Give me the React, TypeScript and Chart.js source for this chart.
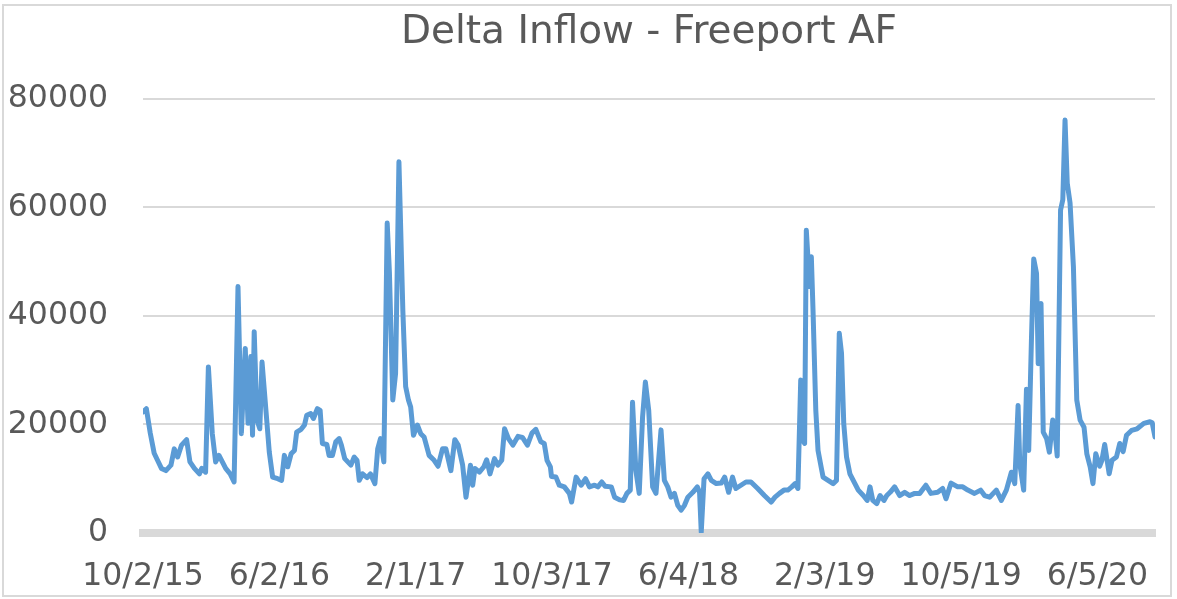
import React, { useEffect, useRef } from "react";
import { Chart, registerables } from "chart.js";

Chart.register(...registerables);

const chartTitle = "Delta Inflow - Freeport AF";
const startDate = "10/2/15";
const xTickLabels = ["10/2/15", "6/2/16", "2/1/17", "10/3/17", "6/4/18", "2/3/19", "10/5/19", "6/5/20"];
const lastDay = 1811;
const yTickStep = 20000;
const yMax = 80000;

// days since 10/2/15 (category index of the daily record)
const dayOfRecord = [
  0, 6, 13, 20, 26, 33, 41, 50, 56, 62, 69, 78, 84, 92, 101, 105, 112, 117, 124, 130,
  136, 142, 148, 156, 163, 170, 176, 183, 188, 193, 196, 199, 204, 209, 213, 220, 226, 232, 241, 248,
  253, 259, 265, 271, 275, 283, 289, 293, 300, 305, 312, 317, 321, 329, 333, 339, 345, 351, 355, 361,
  372, 378, 383, 387, 393, 401, 407, 415, 420, 425, 431, 437, 441, 447, 452, 458, 465, 470, 475, 479,
  484, 491, 497, 503, 512, 521, 528, 536, 542, 551, 558, 564, 572, 578, 586, 590, 594, 602, 610, 615,
  621, 629, 635, 642, 647, 654, 662, 671, 679, 688, 696, 703, 712, 718, 723, 729, 731, 739, 745, 754,
  763, 767, 775, 784, 792, 799, 808, 814, 821, 827, 838, 844, 853, 860, 866, 872, 876, 882, 888, 894,
  899, 905, 912, 918, 927, 933, 939, 945, 951, 957, 963, 969, 975, 984, 992, 996, 999, 1004, 1011, 1017,
  1026, 1035, 1041, 1048, 1055, 1061, 1070, 1079, 1088, 1100, 1112, 1124, 1131, 1139, 1147, 1154, 1161, 1167, 1172, 1177,
  1181, 1184, 1187, 1193, 1196, 1199, 1204, 1208, 1214, 1217, 1226, 1235, 1241, 1246, 1250, 1254, 1259, 1265, 1274, 1280,
  1289, 1296, 1301, 1306, 1313, 1319, 1326, 1331, 1337, 1345, 1354, 1363, 1372, 1381, 1390, 1401, 1410, 1422, 1431, 1437,
  1446, 1458, 1467, 1476, 1488, 1499, 1506, 1515, 1527, 1536, 1545, 1554, 1560, 1566, 1569, 1576, 1581, 1585, 1590, 1594,
  1599, 1602, 1607, 1611, 1617, 1622, 1628, 1632, 1636, 1642, 1646, 1650, 1654, 1659, 1665, 1671, 1677, 1684, 1689, 1695,
  1700, 1705, 1712, 1716, 1721, 1729, 1734, 1742, 1748, 1754, 1760, 1769, 1779, 1791, 1802, 1806, 1811,
];

// inflow, acre-feet
const inflowAF = [
  22300, 22900, 18400, 14700, 13400, 11900, 11500, 12500, 15500, 14000, 16200, 17200, 13100, 11900, 10900, 11900, 11200, 30600, 18300, 13100,
  14300, 13100, 11900, 10900, 9400, 45400, 18300, 34000, 20200, 32500, 18000, 37100, 20800, 19200, 31500, 22600, 14900, 10300, 10000, 9700,
  14300, 12200, 14600, 15200, 18600, 19100, 19900, 21700, 22000, 21100, 22900, 22600, 16500, 16300, 14300, 14300, 16800, 17400, 16200, 13700,
  12500, 14000, 13400, 9700, 10900, 10200, 10900, 9100, 15500, 17400, 13100, 57100, 47900, 24500, 29400, 68400, 41000, 27000, 24500, 23200,
  18000, 19900, 18300, 17700, 14300, 13400, 12300, 15500, 15500, 11500, 17200, 16200, 12500, 6600, 12500, 8800, 11900, 11200, 12200, 13500,
  10900, 13700, 12500, 13400, 19200, 17400, 16200, 17800, 17600, 16200, 18400, 19100, 16800, 16500, 13400, 12200, 10400, 10300, 8800, 8500,
  7300, 5700, 10300, 8800, 10000, 8500, 8800, 8500, 9400, 8600, 8500, 6600, 6100, 6000, 7300, 7900, 24100, 11500, 7300, 21400,
  27800, 22600, 8500, 7300, 19000, 9700, 8500, 6600, 7300, 5100, 4200, 5100, 6600, 7500, 8500, 7500, 200, 10000, 10900, 9700,
  9100, 9200, 10300, 7500, 10300, 8200, 8800, 9400, 9400, 8200, 6900, 5700, 6600, 7300, 7900, 7900, 8500, 9100, 8200, 28200,
  17000, 16500, 55800, 45400, 50900, 41100, 22600, 15200, 11900, 10300, 9700, 9100, 9700, 36800, 33100, 20200, 14000, 10900, 9100, 7900,
  6900, 6000, 8500, 6000, 5400, 6900, 6000, 6900, 7500, 8500, 6900, 7500, 6900, 7300, 7300, 8800, 7300, 7500, 8200, 6300,
  9200, 8500, 8500, 7900, 7300, 7900, 6900, 6600, 7900, 6000, 7900, 11200, 9100, 23500, 12800, 7900, 26500, 15200, 36100, 50500,
  47800, 31200, 42300, 18600, 17400, 14900, 20800, 18600, 14200, 59500, 61400, 76100, 64400, 60800, 49100, 24500, 20800, 19500, 14600, 12200,
  9100, 14600, 12300, 13400, 16300, 10900, 13400, 14000, 16500, 15000, 18000, 18900, 19200, 20200, 20500, 20300, 17700,
];

const parseMDY = (s: string) => {
  const [m, d, y] = s.split("/").map(Number);
  return Date.UTC(2000 + y, m - 1, d);
};
const dayIndexOf = (s: string) => Math.round((parseMDY(s) - parseMDY(startDate)) / 86400000);
const xTickDays = xTickLabels.map(dayIndexOf);

const TEXT = "#595959";
const GRID = "#D9D9D9";
const FONT = '"DejaVu Sans", Verdana, sans-serif';

const framePlugin = {
  id: "frame",
  beforeDraw(chart: any) {
    const { ctx, width, height } = chart;
    ctx.save();
    ctx.fillStyle = "#ffffff";
    ctx.fillRect(0, 0, width, height);
    ctx.strokeStyle = GRID;
    ctx.lineWidth = 2;
    ctx.strokeRect(3, 5, width - 9, height - 8);
    ctx.restore();
  },
};

export default function App() {
  const ref = useRef<HTMLCanvasElement | null>(null);

  useEffect(() => {
    if (!ref.current) return;
    const chart = new Chart(ref.current, {
      type: "line",
      data: {
        datasets: [
          {
            label: chartTitle,
            data: dayOfRecord.map((d, i) => ({ x: d, y: inflowAF[i] })),
            borderColor: "#5B9BD5",
            backgroundColor: "#5B9BD5",
            borderWidth: 5,
            pointRadius: 0,
            tension: 0,
            borderJoinStyle: "round",
            borderCapStyle: "round",
            fill: false,
          },
        ],
      },
      options: {
        animation: false,
        responsive: false,
        events: [],
        layout: { padding: { left: 0, right: 22, top: 0, bottom: 0 } },
        plugins: {
          legend: { display: false },
          tooltip: { enabled: false },
          title: {
            display: true,
            text: chartTitle,
            color: TEXT,
            fullSize: false,
            font: { family: FONT, size: 39, weight: "normal" },
            padding: { top: 9, bottom: 43 },
          },
        },
        scales: {
          x: {
            type: "linear",
            min: 0,
            max: lastDay,
            grid: { display: false, drawTicks: false },
            border: { display: true, color: GRID, width: 8 },
            ticks: {
              autoSkip: false,
              maxRotation: 0,
              minRotation: 0,
              padding: 25,
              color: TEXT,
              font: { family: FONT, size: 31.5 },
              callback: (_v: any, i: number) => xTickLabels[i],
            },
            afterBuildTicks: (s: any) => {
              s.ticks = xTickDays.map((v) => ({ value: v }));
            },
            afterFit: (s: any) => {
              s.height = 66;
            },
          },
          y: {
            min: 0,
            max: yMax,
            grid: { color: GRID, lineWidth: 2, drawTicks: false },
            border: { display: false },
            ticks: {
              stepSize: yTickStep,
              padding: 35,
              color: TEXT,
              font: { family: FONT, size: 31.5 },
              callback: (v: any) => String(v),
            },
            afterFit: (s: any) => {
              s.width = 143;
            },
          },
        },
      },
      plugins: [framePlugin],
    });
    return () => chart.destroy();
  }, []);

  return (
    <div style={{ position: "absolute", left: 0, top: 0, width: 1177, height: 599 }}>
      <canvas ref={ref} width={1177} height={599} style={{ display: "block" }} />
    </div>
  );
}
